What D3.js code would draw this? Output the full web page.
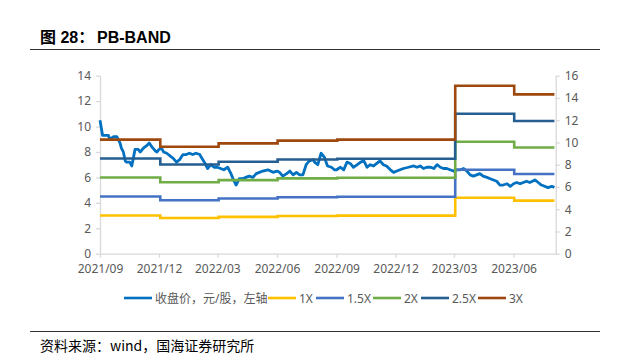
<!DOCTYPE html>
<html>
<head>
<meta charset="utf-8">
<script src="https://cdn.jsdelivr.net/npm/d3@7"></script>
<style>
  html, body { margin: 0; padding: 0; background: #fff; }
  svg { display: block; }
</style>
</head>
<body>
<svg id="chart" width="618" height="364"></svg>
<script>
// ---------- DATA ----------
const priceDates = ["2021-09-01","2021-09-05","2021-09-14","2021-09-16","2021-09-22","2021-09-27","2021-09-29","2021-10-02","2021-10-04","2021-10-07","2021-10-10","2021-10-12","2021-10-17","2021-10-20","2021-10-22","2021-10-25","2021-10-30","2021-11-02","2021-11-07","2021-11-12","2021-11-16","2021-11-20","2021-11-25","2021-11-28","2021-12-01","2021-12-05","2021-12-08","2021-12-13","2021-12-18","2021-12-23","2021-12-28","2022-01-02","2022-01-07","2022-01-12","2022-01-17","2022-01-22","2022-01-27","2022-02-02","2022-02-04","2022-02-09","2022-02-14","2022-02-19","2022-02-24","2022-03-01","2022-03-06","2022-03-11","2022-03-17","2022-03-22","2022-03-26","2022-03-30","2022-04-04","2022-04-09","2022-04-14","2022-04-19","2022-04-25","2022-04-30","2022-05-05","2022-05-10","2022-05-18","2022-05-26","2022-06-01","2022-06-05","2022-06-10","2022-06-16","2022-06-21","2022-06-26","2022-07-01","2022-07-06","2022-07-11","2022-07-16","2022-07-21","2022-07-27","2022-07-29","2022-08-03","2022-08-08","2022-08-13","2022-08-18","2022-08-24","2022-08-29","2022-09-01","2022-09-07","2022-09-12","2022-09-17","2022-09-22","2022-09-27","2022-10-03","2022-10-08","2022-10-13","2022-10-18","2022-10-23","2022-10-28","2022-11-02","2022-11-07","2022-11-12","2022-11-17","2022-11-23","2022-11-28","2022-12-03","2022-12-08","2022-12-13","2022-12-21","2022-12-29","2023-01-03","2023-01-08","2023-01-13","2023-01-18","2023-01-24","2023-01-29","2023-02-03","2023-02-08","2023-02-13","2023-02-18","2023-02-23","2023-02-28","2023-03-06","2023-03-11","2023-03-16","2023-03-21","2023-03-26","2023-03-31","2023-04-05","2023-04-10","2023-04-15","2023-04-21","2023-04-26","2023-05-01","2023-05-06","2023-05-11","2023-05-16","2023-05-22","2023-05-27","2023-06-01","2023-06-06","2023-06-11","2023-06-16","2023-06-21","2023-06-26","2023-07-04","2023-07-09","2023-07-14","2023-07-19","2023-07-24","2023-07-30","2023-08-03"];
const priceValues = [10.5,9.3,9.3,9.0,9.2,9.2,9.0,8.7,8.3,8.0,7.3,7.2,7.2,6.9,7.4,8.2,8.2,8.0,8.3,8.5,8.7,8.4,8.1,8.0,8.2,8.3,8.0,7.9,7.7,7.5,7.2,7.4,7.8,7.8,7.9,7.8,7.9,7.8,7.6,7.2,6.7,7.0,6.8,6.8,6.7,6.6,6.8,6.3,5.8,5.4,5.9,5.9,6.0,6.1,6.0,6.3,6.4,6.5,6.6,6.4,6.5,6.4,6.1,6.3,6.5,6.2,6.4,6.2,6.2,7.0,7.3,7.4,7.2,7.0,7.9,7.6,6.9,6.8,6.6,6.6,6.8,6.6,7.2,7.1,6.8,7.0,7.2,7.3,6.8,7.0,6.9,7.1,7.3,7.0,6.9,6.6,6.4,6.5,6.6,6.7,6.8,6.9,6.8,6.9,6.7,6.8,6.8,6.7,7.0,6.8,6.7,6.7,6.6,6.5,6.6,6.6,6.7,6.5,6.2,6.1,6.2,6.3,6.1,6.0,5.9,5.8,5.7,5.4,5.4,5.5,5.3,5.5,5.6,5.5,5.6,5.7,5.6,5.8,5.6,5.4,5.3,5.2,5.3,5.2];

// band step dates (each value holds until the next date)
const bandDates = ["2021-09-01","2021-12-03","2022-03-03","2022-06-02","2022-09-02","2023-03-03","2023-06-02","2023-08-03"];
const band1x   = [3.43, 3.21, 3.31, 3.39, 3.42, 5.03, 4.77, 4.77];
const band15x  = [5.14, 4.81, 4.96, 5.08, 5.12, 7.55, 7.16, 7.16];
const band2x   = [6.85, 6.42, 6.61, 6.77, 6.83, 10.06, 9.54, 9.54];
const band25x  = [8.56, 8.02, 8.27, 8.47, 8.54, 12.58, 11.93, 11.93];
const band3x   = [10.25, 9.62, 9.92, 10.16, 10.25, 15.10, 14.32, 14.32];

const xTickLabels = ["2021/09","2021/12","2022/03","2022/06","2022/09","2022/12","2023/03","2023/06"];
const leftTicks  = [0, 2, 4, 6, 8, 10, 12, 14];
const rightTicks = [0, 2, 4, 6, 8, 10, 12, 14, 16];

const seriesNames  = ["收盘价，元/股，左轴", "1X", "1.5X", "2X", "2.5X", "3X"];
const seriesColors = ["#0070C0", "#FFC000", "#4472C4", "#70AD47", "#255E91", "#9E480E"];

// ---------- CHART ----------
const svg = d3.select("#chart");
const parse = d3.timeParse("%Y-%m-%d");
const parseTick = d3.timeParse("%Y/%m");
const fmtTick = d3.timeFormat("%Y/%m");

const X0 = 100, X1 = 555.7, Y0 = 253.7, Y1 = 75.7;
const x = d3.scaleTime().domain([parse("2021-09-01"), parse("2023-08-05")]).range([X0, X1]);
const yL = d3.scaleLinear().domain([0, 14]).range([Y0, Y1]);
const yR = d3.scaleLinear().domain([0, 16]).range([Y0, Y1]);

const font = "'Noto Sans', 'Noto Sans CJK SC', sans-serif";
const axisColor = "#D9D9D9";
const textColor = "#595959";

// title
const title = svg.append("text").attr("y", 43)
  .attr("font-family", "'Liberation Sans', 'Noto Sans CJK SC', sans-serif")
  .attr("font-weight", "bold").attr("font-size", 16).attr("fill", "#000");
title.append("tspan").attr("x", 40).text("图 28：");
title.append("tspan").attr("x", 97).text("PB-BAND");
svg.append("line").attr("x1", 30).attr("x2", 600).attr("y1", 49.5).attr("y2", 49.5)
  .attr("stroke", "#333").attr("stroke-width", 1);

// source
svg.append("line").attr("x1", 30).attr("x2", 600).attr("y1", 331.5).attr("y2", 331.5)
  .attr("stroke", "#333").attr("stroke-width", 1);
svg.append("text").attr("x", 40).attr("y", 350.5)
  .attr("font-family", "'Noto Sans CJK SC', sans-serif")
  .attr("font-size", 14).attr("fill", "#000")
  .text("资料来源：wind，国海证券研究所");

// axes
function styleAxis(g) {
  g.selectAll(".domain").attr("stroke", axisColor).attr("stroke-width", 1.3);
  g.selectAll(".tick line").attr("stroke", axisColor).attr("stroke-width", 1.3);
  g.selectAll("text").attr("fill", textColor).attr("font-family", font).attr("font-size", 12);
}
const xAxis = d3.axisBottom(x)
  .tickValues(xTickLabels.map(parseTick))
  .tickFormat(fmtTick).tickSizeInner(4).tickSizeOuter(0).tickPadding(7);
svg.append("g").attr("transform", `translate(0,${Y0})`).call(xAxis).call(styleAxis);

const leftAxis = d3.axisLeft(yL).tickValues(leftTicks).tickSizeInner(4).tickSizeOuter(0).tickPadding(5);
svg.append("g").attr("transform", `translate(${X0},0)`).call(leftAxis).call(styleAxis);

const rightAxis = d3.axisRight(yR).tickValues(rightTicks).tickSizeInner(4).tickSizeOuter(0).tickPadding(5);
svg.append("g").attr("transform", `translate(${X1},0)`).call(rightAxis).call(styleAxis);

// price line (left axis)
const priceData = priceDates.map((d, i) => ({ d: parse(d), v: priceValues[i] }));
svg.append("path").datum(priceData)
  .attr("fill", "none").attr("stroke", seriesColors[0]).attr("stroke-width", 2.8)
  .attr("stroke-linejoin", "round")
  .attr("d", d3.line().x(p => x(p.d)).y(p => yL(p.v)));

// band lines (right axis)
const bands = [band1x, band15x, band2x, band25x, band3x];
const bandLine = d3.line().x(p => x(p.d)).y(p => yR(p.v)).curve(d3.curveStepAfter);
bands.forEach((vals, k) => {
  const data = bandDates.map((d, i) => ({ d: parse(d), v: vals[i] }));
  svg.append("path").datum(data)
    .attr("fill", "none").attr("stroke", seriesColors[k + 1]).attr("stroke-width", 2.6)
    .attr("d", bandLine);
});

// legend
const legendY = 298;
const legendX = [124, 268, 316, 373, 421, 478];
seriesNames.forEach((name, i) => {
  const g = svg.append("g").attr("transform", `translate(${legendX[i]},${legendY})`);
  g.append("line").attr("x1", 0).attr("x2", 28).attr("y1", 0).attr("y2", 0)
    .attr("stroke", seriesColors[i]).attr("stroke-width", 2.6);
  g.append("text").attr("x", 31).attr("y", 4.5)
    .attr("font-family", font).attr("font-size", 12).attr("fill", textColor)
    .text(name);
});
</script>
</body>
</html>
